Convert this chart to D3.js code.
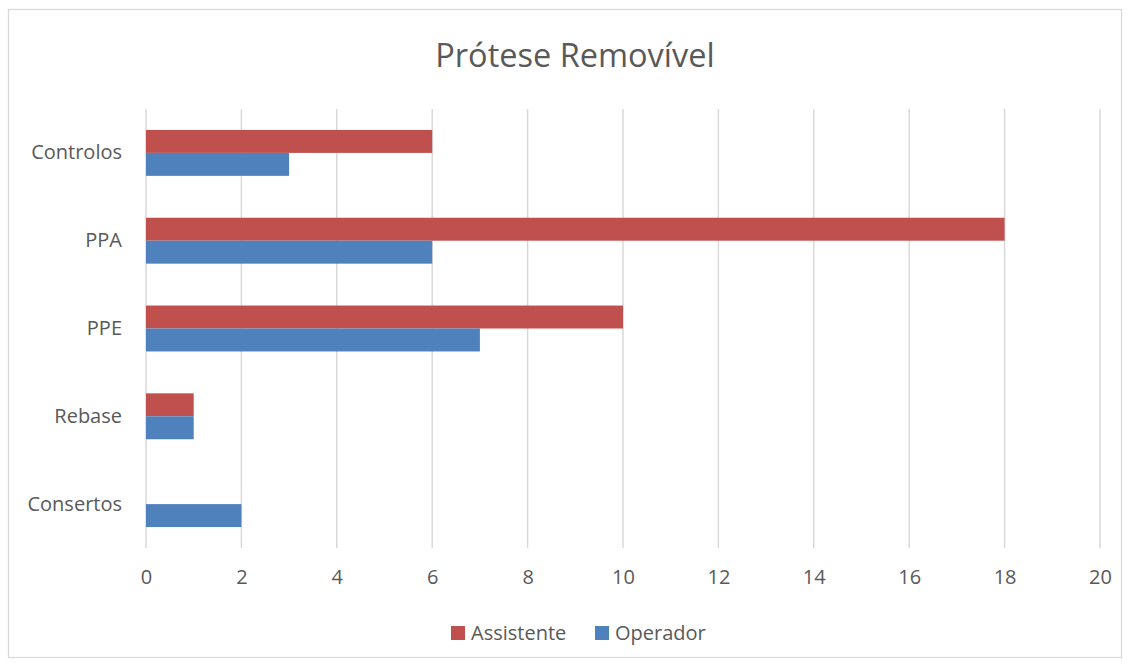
<!DOCTYPE html>
<meta charset="utf-8">
<script src="https://d3js.org/d3.v7.min.js"></script>
<style>
  body { margin: 0; background: #fff; }
  text { font-family: "Open Sans", sans-serif; fill: #595959; }
</style>
<div id="my_dataviz"></div>
<script>

// data
var categories = ["Controlos", "PPA", "PPE", "Rebase", "Consertos"]
var seriesNames = ["Assistente", "Operador"]
var assistente = [6, 18, 10, 1, 0]
var operador = [3, 6, 7, 1, 2]
var xTicks = [0, 2, 4, 6, 8, 10, 12, 14, 16, 18, 20]

var width = 1131,
    height = 666

var svg = d3.select("#my_dataviz")
  .append("svg")
    .attr("width", width)
    .attr("height", height)

// chart border
svg.append("rect")
  .attr("x", 8.5).attr("y", 9.5)
  .attr("width", 1113).attr("height", 648)
  .attr("fill", "white")
  .attr("stroke", "#d9d9d9")
  .attr("stroke-width", 1.3)

// scales
var x = d3.scaleLinear().domain([0, 20]).range([146, 1100])
var y = d3.scaleBand().domain(categories).range([109, 548]).paddingInner(0.477).paddingOuter(0.2385)
var ySub = d3.scaleBand().domain(seriesNames).range([0, y.bandwidth()])
var color = d3.scaleOrdinal().domain(seriesNames).range(["#c0504d", "#4f81bd"])

// gridlines
svg.append("g")
  .selectAll("line")
  .data(xTicks)
  .enter()
  .append("line")
    .attr("x1", function(d) { return x(d) })
    .attr("x2", function(d) { return x(d) })
    .attr("y1", 109)
    .attr("y2", 548)
    .attr("stroke", "#d9d9d9")
    .attr("stroke-width", 1.5)

// x axis labels
var xAxis = svg.append("g")
  .attr("transform", "translate(0,548)")
  .call(d3.axisBottom(x).tickValues(xTicks).tickSize(0).tickPadding(22))
xAxis.select(".domain").remove()
xAxis.selectAll("text").style("font-size", "20px").attr("fill", "#595959")

// y axis labels
var yAxis = svg.append("g")
  .attr("transform", "translate(146,0)")
  .call(d3.axisLeft(y).tickSize(0).tickPadding(24))
yAxis.select(".domain").remove()
yAxis.selectAll("text").style("font-size", "20px").attr("fill", "#595959")

// bars
var rows = categories.map(function(c, i) {
  return { cat: c, values: [
    { key: "Assistente", value: assistente[i] },
    { key: "Operador", value: operador[i] }
  ]}
})

svg.append("g")
  .selectAll("g")
  .data(rows)
  .enter()
  .append("g")
    .attr("transform", function(d) { return "translate(0," + y(d.cat) + ")" })
  .selectAll("rect")
  .data(function(d) { return d.values })
  .enter()
  .append("rect")
    .attr("x", x(0))
    .attr("y", function(d) { return ySub(d.key) })
    .attr("width", function(d) { return x(d.value) - x(0) })
    .attr("height", ySub.bandwidth())
    .attr("fill", function(d) { return color(d.key) })

// title
svg.append("text")
  .attr("x", 575)
  .attr("y", 67)
  .attr("text-anchor", "middle")
  .style("font-size", "32.5px")
  .text("Prótese Removível")

// legend
var legendX = [451, 595]
var legend = svg.append("g")
  .selectAll("g")
  .data(seriesNames)
  .enter()
  .append("g")
    .attr("transform", function(d, i) { return "translate(" + legendX[i] + ",626)" })
legend.append("rect")
  .attr("width", 14).attr("height", 14)
  .attr("fill", function(d) { return color(d) })
legend.append("text")
  .attr("x", 20)
  .attr("y", 14)
  .style("font-size", "20px")
  .text(function(d) { return d })

</script>
